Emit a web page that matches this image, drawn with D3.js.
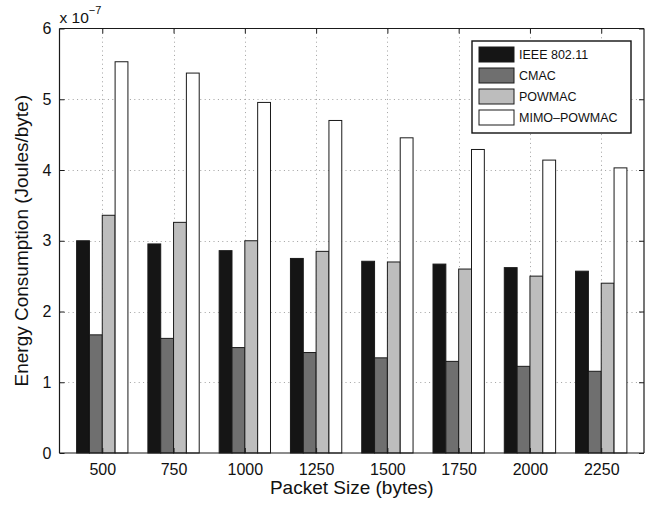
<!DOCTYPE html>
<html>
<head>
<meta charset="utf-8">
<script src="https://cdn.jsdelivr.net/npm/d3@7"></script>
<style>
  html, body { margin: 0; padding: 0; background: #fff; }
  svg { display: block; font-family: "Liberation Sans", Arial, Helvetica, sans-serif; }
</style>
</head>
<body>
<svg id="chart" width="649" height="505"></svg>
<script>
// Packet sizes (x categories) and per-protocol energy consumption (Joules/byte)
const packetSizes = [500, 750, 1000, 1250, 1500, 1750, 2000, 2250];
const ieee80211 = [3.00e-7, 2.955e-7, 2.86e-7, 2.75e-7, 2.71e-7, 2.67e-7, 2.62e-7, 2.57e-7];
const cmac      = [1.67e-7, 1.62e-7, 1.49e-7, 1.42e-7, 1.345e-7, 1.295e-7, 1.225e-7, 1.155e-7];
const powmac    = [3.36e-7, 3.26e-7, 3.00e-7, 2.85e-7, 2.70e-7, 2.60e-7, 2.50e-7, 2.40e-7];
const mimoPowmac = [5.53e-7, 5.37e-7, 4.955e-7, 4.70e-7, 4.455e-7, 4.29e-7, 4.14e-7, 4.03e-7];
const seriesNames = ["IEEE 802.11", "CMAC", "POWMAC", "MIMO\u2013POWMAC"];
const seriesFill = ["#151515", "#6f6f6f", "#bdbdbd", "#ffffff"];
const yTicks = [0, 1e-7, 2e-7, 3e-7, 4e-7, 5e-7, 6e-7];

const seriesValues = [ieee80211, cmac, powmac, mimoPowmac];

const svg = d3.select("#chart");
const plot = { left: 59.5, right: 644, top: 28.5, bottom: 453 };

// x: category index 1..8 with padding on both sides
const x = d3.scaleLinear().domain([0.4, 8.6]).range([plot.left, plot.right]);
const y = d3.scaleLinear().domain([0, 6e-7]).range([plot.bottom, plot.top]);
const inner = d3.scaleBand().domain(d3.range(seriesNames.length)).range([-0.36, 0.36]).padding(0);

const catIdx = packetSizes.map((d, i) => i + 1);

// dotted grid
const grid = svg.append("g").attr("stroke", "#a0a0a0").attr("stroke-width", 1).attr("stroke-dasharray", "1,3.4");
grid.selectAll("line.v").data(catIdx).join("line")
  .attr("x1", d => Math.round(x(d)) + 0.5).attr("x2", d => Math.round(x(d)) + 0.5)
  .attr("y1", plot.top).attr("y2", plot.bottom);
grid.selectAll("line.h").data(yTicks.slice(1, -1)).join("line")
  .attr("x1", plot.left).attr("x2", plot.right)
  .attr("y1", d => Math.round(y(d)) + 0.5).attr("y2", d => Math.round(y(d)) + 0.5);

// bars
const bars = svg.append("g");
seriesValues.forEach((vals, s) => {
  bars.append("g").selectAll("rect").data(vals).join("rect")
    .attr("x", (d, i) => x(catIdx[i] + inner(s)))
    .attr("width", x(1 + inner.bandwidth()) - x(1))
    .attr("y", d => y(d))
    .attr("height", d => y(0) - y(d))
    .attr("fill", seriesFill[s])
    .attr("stroke", "#1a1a1a")
    .attr("stroke-width", 1);
});

// axes box with inward ticks on all four sides
const axisColor = "#1a1a1a";
const tickLen = 5;
const fmtY = d => d3.format("d")(Math.round(d / 1e-7));

const axLeft = d3.axisLeft(y).tickValues(yTicks).tickSize(-tickLen).tickPadding(8).tickFormat(fmtY);
const axRight = d3.axisRight(y).tickValues(yTicks).tickSize(-tickLen).tickFormat("");
const axBottom = d3.axisBottom(x).tickValues(catIdx).tickSize(-tickLen).tickPadding(11)
  .tickFormat((d, i) => packetSizes[i]);
const axTop = d3.axisTop(x).tickValues(catIdx).tickSize(-tickLen).tickFormat("");

function styleAxis(g) {
  g.select(".domain").attr("stroke", axisColor).attr("stroke-width", 1.2);
  g.selectAll(".tick line").attr("stroke", axisColor).attr("stroke-width", 1);
  g.selectAll(".tick text").attr("fill", "#111").style("font-size", "16px")
    .style("font-family", "'Liberation Sans', Arial, Helvetica, sans-serif");
}

svg.append("g").attr("transform", `translate(${plot.left},0)`).call(axLeft).call(styleAxis)
  .call(g => g.select(".domain").attr("d", `M0,${plot.top}V${plot.bottom}`));
svg.append("g").attr("transform", `translate(${plot.right},0)`).call(axRight).call(styleAxis)
  .call(g => g.select(".domain").attr("d", `M0,${plot.top}V${plot.bottom}`));
svg.append("g").attr("transform", `translate(0,${plot.bottom})`).call(axBottom).call(styleAxis)
  .call(g => g.select(".domain").attr("d", `M${plot.left},0H${plot.right}`));
svg.append("g").attr("transform", `translate(0,${plot.top})`).call(axTop).call(styleAxis)
  .call(g => g.select(".domain").attr("d", `M${plot.left},0H${plot.right}`));

// exponent label
const expo = svg.append("text").attr("x", plot.left).attr("y", 23)
  .attr("fill", "#111").style("font-size", "15.5px");
expo.append("tspan").text("x 10");
expo.append("tspan").attr("dy", -9).style("font-size", "11px").text("\u22127");

// axis titles
svg.append("text").attr("x", (plot.left + plot.right) / 2).attr("y", 494)
  .attr("text-anchor", "middle").attr("fill", "#111").style("font-size", "19px")
  .text("Packet Size (bytes)");
svg.append("text").attr("transform", `translate(28,${(plot.top + plot.bottom) / 2}) rotate(-90)`)
  .attr("text-anchor", "middle").attr("fill", "#111").style("font-size", "19px")
  .text("Energy Consumption (Joules/byte)");

// legend
const lg = svg.append("g");
lg.append("rect").attr("x", 472).attr("y", 41).attr("width", 159).attr("height", 92)
  .attr("fill", "#fff").attr("stroke", "#111").attr("stroke-width", 1.4);
seriesNames.forEach((name, s) => {
  const cy = 54.5 + s * 21;
  lg.append("rect").attr("x", 479).attr("y", cy - 7.5).attr("width", 35).attr("height", 15)
    .attr("fill", seriesFill[s]).attr("stroke", "#1a1a1a").attr("stroke-width", 1);
  lg.append("text").attr("x", 519).attr("y", cy).attr("dy", "0.36em")
    .attr("fill", "#111").style("font-size", "12.5px").text(name);
});
</script>
</body>
</html>
